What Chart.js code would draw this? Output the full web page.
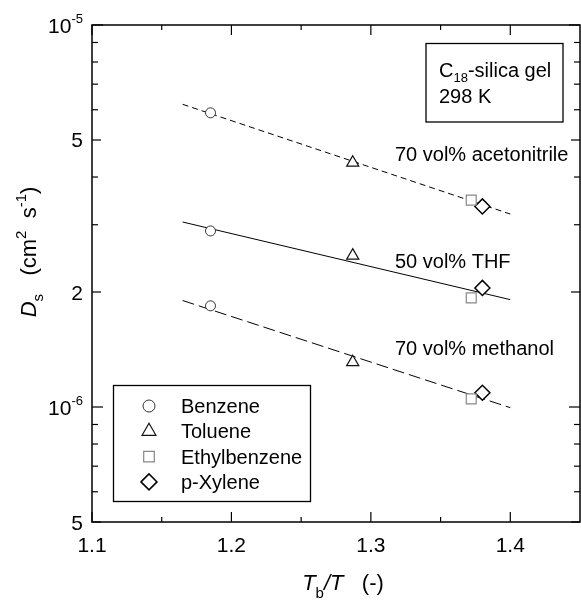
<!DOCTYPE html>
<html>
<head>
<meta charset="utf-8">
<script src="https://cdn.jsdelivr.net/npm/chart.js@4.4.0/dist/chart.umd.min.js"></script>
<style>
  html, body { margin: 0; padding: 0; background: #fff; }
</style>
</head>
<body>
<canvas id="chart" width="581" height="601"></canvas>
<script>
// x = Tb/T, y = Ds (cm2 s-1), one value per compound and solvent
const compounds = ['Benzene', 'Toluene', 'Ethylbenzene', 'p-Xylene'];
const tbOverT = [1.185, 1.287, 1.372, 1.380];
const dsAcetonitrile = [5.89e-6, 4.36e-6, 3.48e-6, 3.35e-6];
const dsTHF = [2.89e-6, 2.49e-6, 1.93e-6, 2.05e-6];
const dsMethanol = [1.84e-6, 1.31e-6, 1.05e-6, 1.09e-6];

// fitted lines, start and end
const fitX = [1.165, 1.40];
const fitAcetonitrile = [6.2e-6, 3.2e-6];
const fitTHF = [3.05e-6, 1.91e-6];
const fitMethanol = [1.90e-6, 9.96e-7];
const solventLabels = ['70 vol% acetonitrile', '50 vol% THF', '70 vol% methanol'];

// axis ticks
const xTicks = [1.1, 1.2, 1.3, 1.4];
const xTickLabels = ['1.1', '1.2', '1.3', '1.4'];
const xMinorTicks = [1.15, 1.25, 1.35];
const yTicks = [1e-5, 5e-6, 2e-6, 1e-6, 5e-7];
const yTickLabels = [['10', '-5'], ['5'], ['2'], ['10', '-6'], ['5']];
const yMinorTicks = [9e-6, 8e-6, 7e-6, 6e-6, 4e-6, 3e-6, 9e-7, 8e-7, 7e-7, 6e-7];

const FONT = '"Liberation Sans", Arial, sans-serif';
const styles = ['circle', 'triangle', 'rect', 'rectRot'];
const radii = [5, 7, 7, 7.5];
const strokes = ['#333', '#111', '#888', '#000'];
const widths = [1, 1.2, 1.2, 1.5];

const pointSets = compounds.map((name, i) => ({
    type: 'scatter',
    label: name,
    data: [
        { x: tbOverT[i], y: dsAcetonitrile[i] },
        { x: tbOverT[i], y: dsTHF[i] },
        { x: tbOverT[i], y: dsMethanol[i] }
    ],
    pointStyle: styles[i],
    pointRadius: radii[i],
    borderColor: strokes[i],
    backgroundColor: '#fff',
    borderWidth: widths[i]
}));

function fitLine(label, ys, dash) {
    return {
        type: 'line',
        label: label,
        data: fitX.map((x, i) => ({ x: x, y: ys[i] })),
        borderColor: '#000',
        borderWidth: 1,
        borderDash: dash,
        pointRadius: 0,
        fill: false
    };
}

function drawRich(ctx, parts, x, y, align) {
    let w = 0;
    parts.forEach(p => { ctx.font = p.font; w += ctx.measureText(p.t).width; });
    let cx = align === 'right' ? x - w : align === 'center' ? x - w / 2 : x;
    parts.forEach(p => {
        ctx.font = p.font;
        ctx.fillText(p.t, cx, y + (p.dy || 0));
        cx += ctx.measureText(p.t).width;
    });
}

function drawSymbol(ctx, style, x, y, r) {
    ctx.beginPath();
    if (style === 'circle') {
        ctx.arc(x, y, r, 0, Math.PI * 2);
    } else if (style === 'triangle') {
        ctx.moveTo(x, y - r);
        ctx.lineTo(x + r * Math.sqrt(3) / 2, y + r / 2);
        ctx.lineTo(x - r * Math.sqrt(3) / 2, y + r / 2);
        ctx.closePath();
    } else if (style === 'rect') {
        const s = r * Math.SQRT1_2;
        ctx.rect(x - s, y - s, 2 * s, 2 * s);
    } else {
        ctx.moveTo(x - r, y);
        ctx.lineTo(x, y - r);
        ctx.lineTo(x + r, y);
        ctx.lineTo(x, y + r);
        ctx.closePath();
    }
    ctx.fill();
    ctx.stroke();
}

const decorations = {
    id: 'decorations',
    afterDraw(chart) {
        const ctx = chart.ctx;
        const a = chart.chartArea;
        const xs = chart.scales.x, ys = chart.scales.y;
        ctx.save();
        ctx.strokeStyle = '#000';
        ctx.fillStyle = '#000';

        // frame
        ctx.lineWidth = 1.5;
        ctx.strokeRect(a.left, a.top, a.right - a.left, a.bottom - a.top);

        // ticks pointing inward on all four sides
        ctx.lineWidth = 1.2;
        const tick = (x1, y1, x2, y2) => { ctx.beginPath(); ctx.moveTo(x1, y1); ctx.lineTo(x2, y2); ctx.stroke(); };
        xTicks.forEach(v => {
            const px = xs.getPixelForValue(v);
            tick(px, a.bottom, px, a.bottom - 10);
            tick(px, a.top, px, a.top + 10);
        });
        xMinorTicks.forEach(v => {
            const px = xs.getPixelForValue(v);
            tick(px, a.bottom, px, a.bottom - 5);
            tick(px, a.top, px, a.top + 5);
        });
        yTicks.forEach(v => {
            const py = ys.getPixelForValue(v);
            const len = (v === 1e-6 || v === 1e-5) ? 11 : 9;
            tick(a.left, py, a.left + len, py);
            tick(a.right, py, a.right - len, py);
        });
        yMinorTicks.forEach(v => {
            const py = ys.getPixelForValue(v);
            tick(a.left, py, a.left + 6, py);
            tick(a.right, py, a.right - 6, py);
        });

        // tick labels
        const big = '20px ' + FONT, sup = '13px ' + FONT, tickFont = '21px ' + FONT;
        ctx.textBaseline = 'alphabetic';
        ctx.textAlign = 'left';
        xTicks.forEach((v, i) => {
            drawRich(ctx, [{ t: xTickLabels[i], font: tickFont }], xs.getPixelForValue(v), 552, 'center');
        });
        yTicks.forEach((v, i) => {
            const py = ys.getPixelForValue(v);
            const lab = yTickLabels[i];
            const parts = [{ t: lab[0], font: tickFont }];
            if (lab[1]) parts.push({ t: lab[1], font: sup, dy: -10 });
            drawRich(ctx, parts, 83, py + 7.5, 'right');
        });

        // axis titles
        const tfont = '22px ' + FONT, tital = 'italic 22px ' + FONT, tsub = '15px ' + FONT;
        drawRich(ctx, [
            { t: 'T', font: tital },
            { t: 'b', font: tsub, dy: 8 },
            { t: '/T', font: tital },
            { t: '   (-)', font: tfont }
        ], 343, 590, 'center');
        ctx.save();
        ctx.translate(36, 252);
        ctx.rotate(-Math.PI / 2);
        drawRich(ctx, [
            { t: 'D', font: tital },
            { t: 's', font: tsub, dy: 7 },
            { t: '   (cm', font: tfont },
            { t: '2', font: tsub, dy: -10 },
            { t: '  s', font: tfont },
            { t: '-1', font: tsub, dy: -10 },
            { t: ')', font: tfont }
        ], 0, 0, 'center');
        ctx.restore();

        // condition box
        ctx.lineWidth = 1.3;
        ctx.strokeRect(426, 43.5, 137, 78.5);
        drawRich(ctx, [
            { t: 'C', font: big },
            { t: '18', font: sup, dy: 5 },
            { t: '-silica gel', font: big }
        ], 439, 77, 'left');
        drawRich(ctx, [{ t: '298 K', font: big }], 439, 103, 'left');

        // solvent labels
        const solventBase = [161, 268, 355];
        solventLabels.forEach((s, i) => drawRich(ctx, [{ t: s, font: big }], 395, solventBase[i], 'left'));

        // legend
        ctx.lineWidth = 1.3;
        ctx.strokeRect(113.5, 385.5, 197, 116);
        const legendR = [6, 8, 7.5, 8];
        compounds.forEach((name, i) => {
            const ry = 406 + i * 25.3;
            ctx.fillStyle = '#fff';
            ctx.strokeStyle = strokes[i];
            ctx.lineWidth = widths[i];
            drawSymbol(ctx, styles[i], 149, ry, legendR[i]);
            ctx.fillStyle = '#000';
            drawRich(ctx, [{ t: name, font: big }], 181, ry + 7, 'left');
        });
        ctx.restore();
    }
};

new Chart(document.getElementById('chart').getContext('2d'), {
    data: {
        datasets: pointSets.concat([
            fitLine('acetonitrile', fitAcetonitrile, [6, 4]),
            fitLine('THF', fitTHF, []),
            fitLine('methanol', fitMethanol, [12, 5])
        ])
    },
    options: {
        responsive: false,
        animation: false,
        layout: { autoPadding: false, padding: { left: 92, top: 25, right: 1, bottom: 79 } },
        plugins: { legend: { display: false }, tooltip: { enabled: false } },
        scales: {
            x: { type: 'linear', min: 1.1, max: 1.45, display: false },
            y: { type: 'logarithmic', min: 5e-7, max: 1e-5, display: false }
        }
    },
    plugins: [decorations]
});
</script>
</body>
</html>
